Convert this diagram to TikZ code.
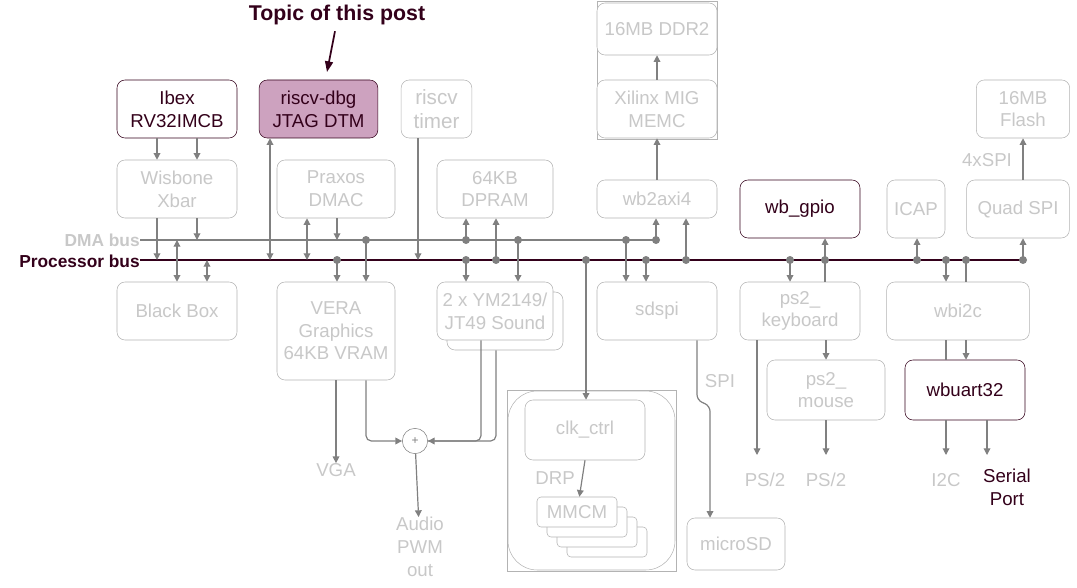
\documentclass[tikz,border=0pt]{standalone}
\usepackage{fontspec}
\setmainfont{Liberation Sans}
\usetikzlibrary{arrows.meta}
\definecolor{lngray}{HTML}{808080}
\definecolor{bxgray}{HTML}{B3B3B3}
\definecolor{txgray}{HTML}{C8C8C8}
\definecolor{dark}{HTML}{33001A}
\definecolor{pink}{HTML}{CDA2BF}
\tikzset{>={Triangle[length=5pt,width=5pt]}}
\begin{document}
\begin{tikzpicture}[x=0.75pt,y=-0.75pt,
    box/.style={draw=bxgray,rounded corners=6pt,text=txgray,align=center,
      font=\fontsize{14}{17}\selectfont,inner sep=0pt,fill=white},
    hot/.style={box,draw=dark,text=dark},
    wire/.style={lngray,line width=0.9pt},
    lbl/.style={text=txgray,font=\fontsize{14}{17}\selectfont,align=center,inner sep=0pt},
    dot/.style={circle,fill=lngray,inner sep=0pt,minimum size=6pt}]
\useasboundingbox (0,0) rectangle (1077,588);

% top row
\draw[bxgray] (597,1) rectangle (717,139);
\node[hot,minimum width=90pt,minimum height=43.5pt] (ibex) at (177,109) {Ibex\\RV32IMCB};
\node[hot,fill=pink,minimum width=89pt,minimum height=43.5pt] (dbg) at (318.5,109) {riscv-dbg\\JTAG DTM};
\node[box,minimum width=53pt,minimum height=43.5pt,font=\fontsize{15.5}{18}\selectfont] (timer) at (436.5,109) {riscv\\timer};
\node[box,minimum width=90pt,minimum height=39pt] (ddr) at (657,29) {16MB DDR2};
\node[box,minimum width=90pt,minimum height=43.5pt] (mig) at (657,109) {Xilinx MIG\\MEMC};
\node[box,minimum width=70pt,minimum height=43.5pt] (flash) at (1023,109) {16MB\\Flash};

% second row
\node[box,minimum width=90pt,minimum height=43.5pt] (xbar) at (177,189) {Wisbone\\Xbar};
\node[box,minimum width=88.5pt,minimum height=43.5pt] (dmac) at (336,189) {Praxos\\DMAC};
\node[box,minimum width=87pt,minimum height=43.5pt] (dpram) at (495,189) {64KB\\DPRAM};
\node[box,minimum width=90pt,minimum height=28.5pt] (axi) at (657,199) {wb2axi4};
\node[hot,minimum width=90pt,minimum height=43.5pt] (gpio) at (800,209) {wb\_gpio};
\node[box,minimum width=43.5pt,minimum height=43.5pt] (icap) at (916,209) {ICAP};
\node[box,minimum width=77pt,minimum height=43.5pt] (qspi) at (1018,209) {Quad SPI};

% buses
\node[anchor=east,inner sep=0pt,text=txgray,font=\bfseries\fontsize{13}{15}\selectfont] (dmalbl) at (140,240) {DMA bus};
\node[anchor=east,inner sep=0pt,text=dark,font=\bfseries\fontsize{13}{15}\selectfont] (prclbl) at (140,261) {Processor bus};
\coordinate (dmaw) at (140,240); \coordinate (dmae) at (656,240);
\coordinate (prcw) at (140,260); \coordinate (prce) at (1023,260);
\draw[wire] (dmaw) -- (dmae);
\draw[dark,line width=1pt] (prcw) -- (prce);

% bottom row
\node[box,minimum width=90pt,minimum height=43.5pt] (bbox) at (177,311) {Black Box};
\node[box,minimum width=88.5pt,minimum height=73.5pt] (vera) at (336,331) {VERA\\Graphics\\64KB VRAM};
\node[box,minimum width=87pt,minimum height=43.5pt] (ymb) at (505,321) {};
\node[box,minimum width=87pt,minimum height=43.5pt] (ym) at (495,311) {2 x YM2149/\\JT49 Sound};
\node[box,minimum width=90pt,minimum height=43.5pt] (sd) at (657,311) {sdspi};
\node[box,minimum width=90pt,minimum height=43.5pt] (kbd) at (800,311) {ps2\_\\keyboard};
\node[box,minimum width=88.5pt,minimum height=45pt] (mouse) at (826,390) {ps2\_\\mouse};
\node[box,minimum width=107pt,minimum height=43.5pt] (i2c) at (958,311) {wbi2c};
\node[hot,minimum width=90pt,minimum height=45pt] (uart) at (965,390) {wbuart32};

% clock block
\draw[bxgray] (507,390) rectangle (676,571);
\draw[bxgray,rounded corners=22pt] (508,391) rectangle (675,570);
\node[box,minimum width=90pt,minimum height=45pt] (clk) at (585,430) {clk\_ctrl};
\foreach \i in {3,2,1}
  \node[box,rounded corners=3pt,minimum width=60pt,minimum height=22.5pt] (mm\i) at (577+10*\i,512+10*\i) {};
\node[box,rounded corners=3pt,minimum width=60pt,minimum height=22.5pt] (mm0) at (577,512) {MMCM};
\node[lbl] (drp) at (555,478) {DRP};
\node[box,minimum width=73.5pt,minimum height=39pt] (msd) at (736,544) {microSD};
\node[circle,draw=lngray,text=lngray,minimum size=19pt,inner sep=0pt,font=\small] (add) at (415,441) {+};

% outputs
\node[lbl] (vga) at (336,470) {VGA};
\node[lbl,anchor=north] (pwm) at (420,517) {Audio\\PWM\\out};
\node[lbl] (spi) at (720,381) {SPI};
\node[lbl] (ps2a) at (765,480) {PS/2};
\node[lbl] (ps2b) at (826,480) {PS/2};
\node[lbl] (i2co) at (946,480) {I2C};
\node[lbl,text=dark,anchor=north] (ser) at (1007,469) {Serial\\Port};
\node[lbl] (qlbl) at (987,160) {4xSPI};

% title
\node[text=dark,font=\bfseries\fontsize{16}{18}\selectfont,inner sep=0pt] (topic) at (337,15) {Topic of this post};
\draw[->,dark,line width=1.3pt,>={Triangle[length=8pt,width=6pt]}] (topic.south)+(-2,6) -- (327,72);

% top connections
\draw[wire,->] (ibex.south -| 157,0) -- (xbar.north -| 157,0);
\draw[wire,->] (ibex.south -| 197,0) -- (xbar.north -| 197,0);
\draw[wire,->] (mig) -- (ddr);
\draw[wire,->] (axi) -- (mig);
\draw[wire,->] (qspi.north -| 1023,0) -- (flash.south -| 1023,0);

% bus taps
\draw[wire,->] (xbar.south -| 157,0) -- (157,260);
\draw[wire,->] (xbar.south -| 197,0) -- (197,240);
\draw[wire,<->] (177,240) -- (bbox.north -| 177,0);
\draw[wire,<->] (207,260) -- (bbox.north -| 207,0);
\draw[wire,<->] (dbg.south -| 270,0) -- (270,260);
\draw[wire,<->] (dmac.south -| 307,0) -- (307,260);
\draw[wire,->] (dmac.south -| 337,0) -- (337,240);
\draw[wire,->] (timer.south -| 418,0) -- (418,260);
\draw[wire,<-] (dpram.south -| 466,0) -- (466,240) node[dot]{};
\draw[wire,<-] (dpram.south -| 496,0) -- (496,260) node[dot]{};
\draw[wire,->] (337,260) node[dot]{} -- (vera.north -| 337,0);
\draw[wire,->] (366,240) node[dot]{} -- (vera.north -| 366,0);
\draw[wire,->] (466,260) node[dot]{} -- (ym.north -| 466,0);
\draw[wire,->] (518,240) node[dot]{} -- (ym.north -| 518,0);
\draw[wire,->] (586,260) node[dot]{} -- (clk.north -| 586,0);
\draw[wire,->] (626,240) node[dot]{} -- (sd.north -| 626,0);
\draw[wire,->] (646,260) node[dot]{} -- (sd.north -| 646,0);
\draw[wire,<-] (axi.south -| 656,0) -- (656,240) node[dot]{};
\draw[wire,<-] (axi.south -| 686,0) -- (686,260) node[dot]{};
\draw[wire,->] (790,260) node[dot]{} -- (kbd.north -| 790,0);
\draw[wire,->] (kbd.north -| 825,0) -- (825,260) node[dot]{} -- (gpio.south -| 825,0);
\draw[wire,<-] (icap.south -| 917,0) -- (917,260) node[dot]{};
\draw[wire,->] (946,260) node[dot]{} -- (i2c.north -| 946,0);
\draw[wire] (966,260) node[dot]{} -- (i2c.north -| 966,0);
\draw[wire,<-] (qspi.south -| 1023,0) -- (1023,260) node[dot]{};

% lower connections
\draw[wire,->] (vera.south -| 336,0) -- (vga);
\draw[wire,->,rounded corners=4pt] (vera.south -| 366,0) |- (add);
\draw[wire,->,rounded corners=4pt] (ymb.south -| 496,0) |- (add);
\draw[wire,rounded corners=4pt] (ym.south -| 481,0) |- (add);
\draw[wire,->] (add) -- (pwm);
\draw[wire,->,rounded corners=4pt] (sd.south -| 697,0) -- (697,400) -- (710,406) -- (msd.north -| 710,0);
\draw[wire,->] (clk.south -| 585,0) -- (mm0);
\draw[wire,->] (kbd.south -| 757,0) -- (757,455);
\draw[wire,->] (kbd.south -| 826,0) -- (mouse);
\draw[wire,->] (mouse) -- (826,455);
\draw[wire,->] (i2c.south -| 966,0) -- (uart.north -| 966,0);
\draw[wire] (i2c.south -| 946,0) -- (uart.north -| 946,0);
\draw[wire,->] (uart.south -| 946,0) -- (946,455);
\draw[wire,->] (uart.south -| 987,0) -- (987,455);
\end{tikzpicture}
\end{document}
